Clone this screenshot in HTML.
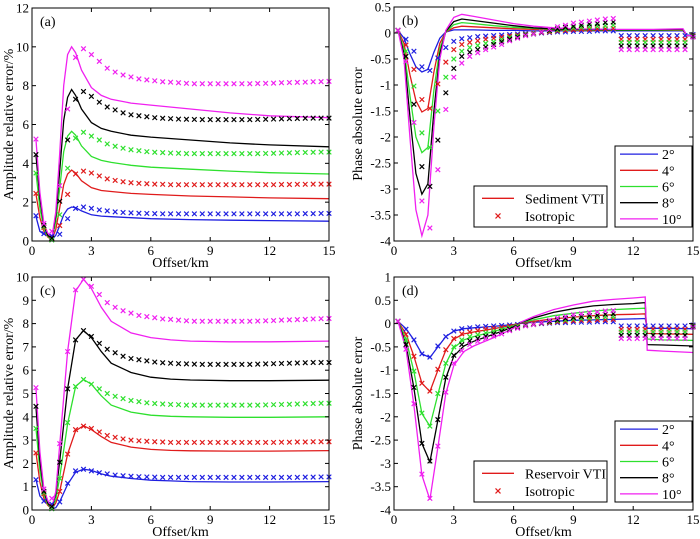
<!DOCTYPE html>
<html><head><meta charset="utf-8"><style>
body{margin:0;background:#fff}
svg{display:block;font-family:"Liberation Serif",serif}
</style></head><body>
<svg id="fig" width="700" height="539" viewBox="0 0 700 539" xmlns="http://www.w3.org/2000/svg"></svg>
<script>
const colors=["#1f1fe0","#e01b1b","#2ee02e","#000000","#f020f0"];
const angleLabels=["2°","4°","6°","8°","10°"];
const markerX=[0.2,0.6,1.0,1.4,1.8,2.2,2.6,3.0,3.4,3.8,4.2,4.6,5.0,5.4,5.8,6.2,6.6,7.0,7.4,7.8,8.2,8.6,9.0,9.4,9.8,10.2,10.6,11.0,11.4,11.8,12.2,12.6,13.0,13.4,13.8,14.2,14.6,15.0];
// isotropic amplitude markers (a,c)
const ampIsoBlue=[1.3,0.38,0.25,0.35,1.15,1.68,1.75,1.68,1.6,1.55,1.5,1.47,1.45,1.43,1.42,1.41,1.4,1.4,1.4,1.4,1.4,1.4,1.4,1.4,1.4,1.4,1.4,1.4,1.4,1.4,1.4,1.4,1.4,1.4,1.41,1.41,1.42,1.42];
const ampIsoRed=[2.45,0.7,0.15,0.8,2.4,3.45,3.6,3.5,3.35,3.2,3.12,3.05,3.0,2.97,2.95,2.93,2.92,2.9,2.9,2.9,2.9,2.9,2.9,2.9,2.9,2.9,2.9,2.9,2.9,2.9,2.9,2.91,2.91,2.92,2.92,2.93,2.93,2.93];
const ampIsoGreen=[3.5,0.75,0.05,1.35,3.75,5.3,5.6,5.4,5.2,5.0,4.88,4.78,4.7,4.65,4.6,4.57,4.55,4.53,4.52,4.5,4.5,4.5,4.5,4.5,4.5,4.5,4.5,4.5,4.5,4.51,4.52,4.53,4.54,4.55,4.56,4.57,4.58,4.58];
const ampIsoBlack=[4.45,0.8,0.15,2.05,5.2,7.3,7.7,7.45,7.15,6.9,6.75,6.6,6.5,6.45,6.4,6.35,6.32,6.3,6.28,6.27,6.26,6.25,6.25,6.25,6.25,6.25,6.25,6.25,6.26,6.27,6.28,6.29,6.3,6.31,6.32,6.33,6.33,6.33];
const ampIsoMagenta=[5.25,0.9,0.5,2.85,6.8,9.45,9.9,9.6,9.25,8.9,8.7,8.55,8.45,8.35,8.3,8.25,8.2,8.18,8.15,8.12,8.1,8.1,8.1,8.1,8.1,8.1,8.1,8.1,8.11,8.12,8.13,8.15,8.16,8.17,8.18,8.2,8.21,8.22];
// sediment VTI amplitude lines (a)
const ampSedX=[0.2,0.4,0.6,0.8,1.0,1.2,1.4,1.6,1.8,2.0,2.2,2.5,3,3.5,4,5,6,8,10,12,15];
const ampSedBlue=[1.25,0.5,0.35,0.3,0.05,0.3,0.8,1.35,1.65,1.75,1.72,1.55,1.35,1.28,1.25,1.2,1.15,1.1,1.07,1.05,1.02];
const ampSedRed=[2.4,1.2,0.5,0.2,0.05,0.6,1.7,2.9,3.45,3.65,3.5,3.1,2.75,2.6,2.55,2.45,2.4,2.32,2.27,2.22,2.18];
const ampSedGreen=[3.5,1.7,0.6,0.25,0.05,1.0,2.7,4.6,5.4,5.65,5.45,4.9,4.35,4.15,4.05,3.9,3.8,3.7,3.6,3.52,3.45];
const ampSedBlack=[4.4,2.2,0.8,0.3,0.1,1.3,3.6,6.2,7.4,7.8,7.5,6.8,6.1,5.8,5.65,5.45,5.35,5.2,5.05,4.95,4.85];
const ampSedMagenta=[5.2,2.5,0.9,0.4,0.15,1.5,4.5,8,9.6,10.0,9.7,8.8,7.9,7.5,7.3,7.1,7.0,6.8,6.6,6.45,6.35];
// reservoir VTI amplitude lines (c)
const ampResX=[0.2,0.4,0.6,0.8,1.0,1.2,1.4,1.8,2.2,2.6,3.0,3.5,4,5,6,7,8,10,12,15];
const ampResBlue=[1.3,0.6,0.4,0.3,0.05,0.1,0.35,1.1,1.62,1.75,1.7,1.55,1.45,1.35,1.28,1.25,1.22,1.2,1.2,1.22];
const ampResRed=[2.45,1.2,0.5,0.2,0.05,0.3,0.8,2.4,3.4,3.62,3.45,3.15,2.9,2.7,2.6,2.56,2.54,2.53,2.53,2.55];
const ampResGreen=[3.5,1.7,0.65,0.25,0.05,0.45,1.4,3.7,5.3,5.6,5.4,4.9,4.5,4.2,4.07,4.02,4.0,3.98,3.98,4.0];
const ampResBlack=[4.4,2.1,0.8,0.3,0.05,0.7,2.1,5.2,7.3,7.7,7.4,6.8,6.3,5.9,5.7,5.62,5.58,5.55,5.55,5.57];
const ampResMagenta=[5.2,2.5,0.9,0.4,0.1,0.8,2.8,6.8,9.4,9.9,9.5,8.7,8.1,7.6,7.4,7.3,7.25,7.22,7.22,7.25];
// isotropic phase markers (b,d)
const phIsoBlue=[0.05,-0.12,-0.35,-0.65,-0.72,-0.48,-0.28,-0.16,-0.11,-0.09,-0.07,-0.06,-0.05,-0.04,-0.03,-0.02,-0.01,0,0,0.01,0.02,0.02,0.03,0.03,0.03,0.04,0.04,0.04,-0.05,-0.05,-0.05,-0.05,-0.05,-0.05,-0.05,-0.05,-0.05,-0.03];
const phIsoRed=[0.05,-0.23,-0.7,-1.28,-1.45,-0.98,-0.56,-0.32,-0.22,-0.18,-0.15,-0.12,-0.1,-0.08,-0.06,-0.04,-0.02,0,0.01,0.02,0.04,0.05,0.06,0.07,0.07,0.08,0.08,0.09,-0.12,-0.12,-0.12,-0.12,-0.12,-0.12,-0.12,-0.12,-0.12,-0.05];
const phIsoGreen=[0.05,-0.35,-1.02,-1.92,-2.2,-1.5,-0.85,-0.5,-0.35,-0.28,-0.24,-0.2,-0.17,-0.13,-0.09,-0.06,-0.03,-0.01,0.02,0.04,0.06,0.08,0.1,0.11,0.12,0.13,0.14,0.15,-0.18,-0.18,-0.18,-0.18,-0.18,-0.18,-0.18,-0.18,-0.18,-0.06];
const phIsoBlack=[0.05,-0.45,-1.37,-2.57,-2.95,-2.06,-1.15,-0.68,-0.45,-0.37,-0.32,-0.27,-0.22,-0.17,-0.12,-0.08,-0.04,-0.02,0.02,0.05,0.08,0.11,0.13,0.15,0.17,0.18,0.2,0.21,-0.25,-0.25,-0.25,-0.25,-0.25,-0.25,-0.25,-0.25,-0.25,-0.07];
const phIsoMagenta=[0.05,-0.55,-1.72,-3.23,-3.75,-2.63,-1.47,-0.85,-0.58,-0.45,-0.38,-0.32,-0.27,-0.22,-0.15,-0.1,-0.05,-0.02,0.02,0.07,0.12,0.15,0.19,0.21,0.23,0.25,0.27,0.28,-0.32,-0.32,-0.32,-0.32,-0.32,-0.32,-0.32,-0.32,-0.32,-0.08];
// sediment VTI phase lines (b)
const phSedX=[0.2,0.5,0.8,1.1,1.4,1.7,2.0,2.3,2.6,3.0,3.4,4,5,6,7,8,9,11,13,14.5,14.7,15];
const phSedBlue=[0.05,-0.1,-0.4,-0.65,-0.75,-0.7,-0.37,-0.1,0.02,0.06,0.06,0.06,0.05,0.05,0.04,0.04,0.04,0.04,0.04,0.04,-0.04,-0.04];
const phSedRed=[0.05,-0.2,-0.8,-1.3,-1.52,-1.45,-0.75,-0.2,0.02,0.1,0.13,0.12,0.1,0.08,0.07,0.06,0.05,0.05,0.05,0.05,-0.05,-0.05];
const phSedGreen=[0.05,-0.3,-1.2,-2.0,-2.3,-2.2,-1.1,-0.3,0.02,0.16,0.2,0.18,0.14,0.11,0.09,0.07,0.06,0.05,0.05,0.06,-0.05,-0.05];
const phSedBlack=[0.05,-0.4,-1.6,-2.7,-3.1,-2.9,-1.5,-0.4,0.03,0.22,0.27,0.24,0.19,0.14,0.1,0.08,0.07,0.06,0.06,0.07,-0.05,-0.05];
const phSedMagenta=[0.05,-0.5,-2.0,-3.4,-3.9,-3.5,-1.8,-0.5,0.05,0.3,0.36,0.32,0.25,0.18,0.13,0.1,0.08,0.07,0.07,0.08,-0.05,-0.05];
// reservoir VTI phase lines (d)
const phResX=[0.2,0.6,1.0,1.4,1.8,2.2,2.6,3.0,3.5,4,5,6,6.3,7,8,9,10,11,12,12.6,12.7,13.5,15];
const phResBlue=[0.05,-0.11,-0.35,-0.65,-0.73,-0.5,-0.28,-0.16,-0.11,-0.09,-0.06,-0.02,0,0.03,0.05,0.07,0.08,0.09,0.1,0.11,-0.1,-0.1,-0.11];
const phResRed=[0.05,-0.22,-0.7,-1.28,-1.46,-1.0,-0.57,-0.33,-0.22,-0.18,-0.11,-0.03,0.01,0.05,0.1,0.14,0.17,0.19,0.2,0.21,-0.21,-0.22,-0.23];
const phResGreen=[0.05,-0.33,-1.03,-1.93,-2.2,-1.52,-0.86,-0.52,-0.35,-0.28,-0.17,-0.05,0.02,0.08,0.17,0.22,0.27,0.3,0.32,0.33,-0.33,-0.35,-0.36];
const phResBlack=[0.05,-0.45,-1.38,-2.57,-2.97,-2.07,-1.17,-0.7,-0.48,-0.38,-0.23,-0.07,0.02,0.12,0.24,0.32,0.38,0.41,0.43,0.45,-0.45,-0.46,-0.48];
const phResMagenta=[0.05,-0.55,-1.75,-3.25,-3.78,-2.65,-1.5,-0.9,-0.6,-0.48,-0.3,-0.1,0.02,0.15,0.3,0.4,0.48,0.52,0.55,0.57,-0.57,-0.59,-0.62];
const xTicks=[0,3,6,9,12,15];
const ampTicksA=[0,2,4,6,8,10,12];
const ampTicksC=[0,1,2,3,4,5,6,7,8,9,10];
const phTicksB=[-4,-3.5,-3,-2.5,-2,-1.5,-1,-0.5,0,0.5];
const phTicksD=[-4,-3.5,-3,-2.5,-2,-1.5,-1,-0.5,0,0.5,1];

const NS="http://www.w3.org/2000/svg";
const svg=document.getElementById('fig');
function mk(tag,attrs,parent){const e=document.createElementNS(NS,tag);for(const k in attrs)e.setAttribute(k,attrs[k]);(parent||svg).appendChild(e);return e;}

function panel(p){
  const g=mk('g',{});
  
  
  const sx=v=>p.L+(v-0)/15*(p.R-p.L);
  const sy=v=>p.B-(v-p.ymin)/(p.ymax-p.ymin)*(p.B-p.T);
  // series lines
  p.lines.forEach((ys,i)=>{
    const d=ys.map((y,j)=>(j?'L':'M')+sx(p.lineX[j]).toFixed(1)+' '+sy(y).toFixed(1)).join(' ');
    const path=mk('path',{d:d,fill:'none',stroke:colors[i],'stroke-width':1.3},g);
    
    
  });
  // markers
  p.marks.forEach((ys,i)=>{
    const mg=mk('g',{stroke:colors[i],'stroke-width':1.2},g);
    
    
    ys.forEach((y,j)=>{
      const cx=sx(markerX[j]),cy=sy(y),s=2.3;
      mk('path',{d:`M${cx-s} ${cy-s}L${cx+s} ${cy+s}M${cx-s} ${cy+s}L${cx+s} ${cy-s}`},mg);
    });
  });
  // box
  const box=mk('rect',{x:p.L,y:p.T,width:p.R-p.L,height:p.B-p.T,fill:'none',stroke:'#000','stroke-width':1},g);
  
  
  // x ticks
  xTicks.forEach(t=>{
    const x=sx(t);
    mk('line',{x1:x,x2:x,y1:p.B,y2:p.B-4,stroke:'#000'},g);
    mk('line',{x1:x,x2:x,y1:p.T,y2:p.T+4,stroke:'#000'},g);
    const tx=mk('text',{x:x,y:p.B+14,'font-size':13,'text-anchor':'middle'},g);
    tx.textContent=t;
    
    
  });
  p.yTicks.forEach(t=>{
    const y=sy(t);
    mk('line',{x1:p.L,x2:p.L+4,y1:y,y2:y,stroke:'#000'},g);
    mk('line',{x1:p.R,x2:p.R-4,y1:y,y2:y,stroke:'#000'},g);
    const tx=mk('text',{x:p.L-3,y:y+4.5,'font-size':13,'text-anchor':'end'},g);
    tx.textContent=t;
    
    
  });
  const xl=mk('text',{x:(p.L+p.R)/2,y:p.B+26,'font-size':14,'text-anchor':'middle'},g);
  xl.textContent='Offset/km';
  
  
  const yl=mk('text',{x:0,y:0,'font-size':14,'text-anchor':'middle',transform:`translate(${p.yl},${(p.T+p.B)/2}) rotate(-90)`},g);
  yl.textContent=p.ylabel;
  
  
  const lb=mk('text',{x:p.L+8,y:p.T+18,'font-size':14},g);
  lb.textContent=p.tag;
  
  
  if(p.legend){
    const lg=mk('g',{},g);
    
    
    const [x0,y0,x1,y1]=p.legend;
    mk('rect',{x:x0,y:y0,width:x1-x0,height:y1-y0,fill:'#fff',stroke:'#000'},lg);
    const step=(y1-y0)/5;
    angleLabels.forEach((lab,i)=>{
      const yy=y0+step*(i+0.5);
      mk('line',{x1:x0+5,x2:x0+43,y1:yy,y2:yy,stroke:colors[i],'stroke-width':1.3},lg);
      const t=mk('text',{x:x0+47,y:yy+5,'font-size':14},lg);
      t.textContent=lab;
      
      
    });
    const lg2=mk('g',{},g);
    
    
    const [a0,b0,a1,b1]=p.legend2;
    mk('rect',{x:a0,y:b0,width:a1-a0,height:b1-b0,fill:'#fff',stroke:'#000'},lg2);
    const y1a=b0+(b1-b0)*0.3,y2a=b0+(b1-b0)*0.73;
    mk('line',{x1:a0+8,x2:a0+40,y1:y1a,y2:y1a,stroke:colors[1],'stroke-width':1.3},lg2);
    const t1=mk('text',{x:a0+51,y:y1a+5,'font-size':14},lg2);t1.textContent=p.vtiName;
    
    
    const cx=a0+24,s=2.5;
    mk('path',{d:`M${cx-s} ${y2a-s}L${cx+s} ${y2a+s}M${cx-s} ${y2a+s}L${cx+s} ${y2a-s}`,stroke:colors[1],'stroke-width':1.2},lg2);
    const t2=mk('text',{x:a0+51,y:y2a+5,'font-size':14},lg2);t2.textContent='Isotropic';
    
    
  }
}
const ampIso=[ampIsoBlue,ampIsoRed,ampIsoGreen,ampIsoBlack,ampIsoMagenta];
const phIso=[phIsoBlue,phIsoRed,phIsoGreen,phIsoBlack,phIsoMagenta];
panel({name:'panel-a',tag:'(a)',L:32,R:329,T:8,B:241,ymin:0,ymax:12,yTicks:ampTicksA,yl:13,ylabel:'Amplitude relative error/%',
  lineX:ampSedX,lines:[ampSedBlue,ampSedRed,ampSedGreen,ampSedBlack,ampSedMagenta],marks:ampIso});
panel({name:'panel-b',tag:'(b)',L:394,R:693,T:7,B:241,ymin:-4,ymax:0.5,yTicks:phTicksB,yl:362,ylabel:'Phase absolute error',
  lineX:phSedX,lines:[phSedBlue,phSedRed,phSedGreen,phSedBlack,phSedMagenta],marks:phIso,
  legend:[615,146,692,227],legend2:[474,186,607,227],vtiName:'Sediment VTI'});
panel({name:'panel-c',tag:'(c)',L:32,R:329,T:277,B:510,ymin:0,ymax:10,yTicks:ampTicksC,yl:13,ylabel:'Amplitude relative error/%',
  lineX:ampResX,lines:[ampResBlue,ampResRed,ampResGreen,ampResBlack,ampResMagenta],marks:ampIso});
panel({name:'panel-d',tag:'(d)',L:394,R:693,T:277,B:510,ymin:-4,ymax:1,yTicks:phTicksD,yl:362,ylabel:'Phase absolute error',
  lineX:phResX,lines:[phResBlue,phResRed,phResGreen,phResBlack,phResMagenta],marks:phIso,
  legend:[615,421,692,502],legend2:[474,461,607,502],vtiName:'Reservoir VTI'});
</script>
</body></html>
